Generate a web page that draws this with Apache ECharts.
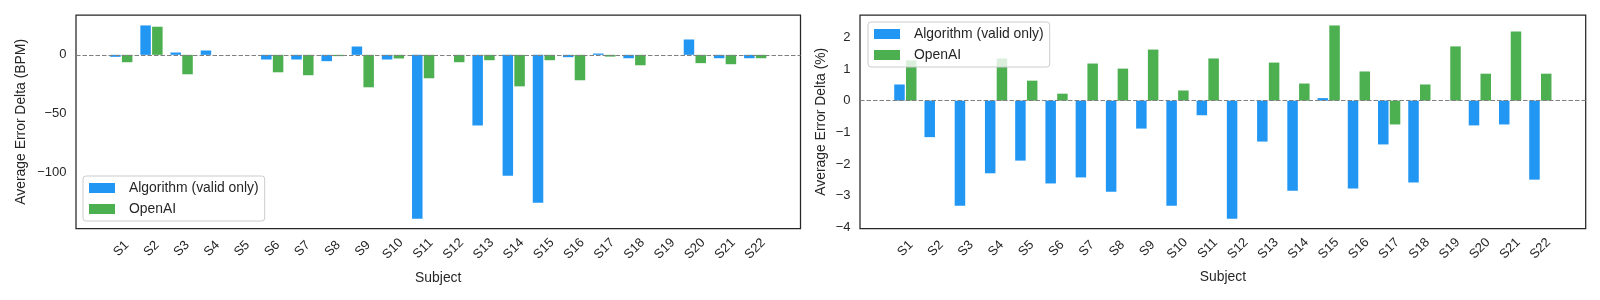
<!DOCTYPE html>
<html>
<head>
<meta charset="utf-8">
<script src="https://cdn.jsdelivr.net/npm/echarts@6/dist/echarts.min.js"></script>
<style>
html,body{margin:0;padding:0;background:#fff;}
#chart{width:1600px;height:300px;}
</style>
</head>
<body>
<div id="chart"></div>
<script>
const subjects = ['S1','S2','S3','S4','S5','S6','S7','S8','S9','S10','S11','S12','S13','S14','S15','S16','S17','S18','S19','S20','S21','S22'];

// Left panel: Average Error Delta (BPM)
const bpmAlgorithm = [-1.7, 25.1, 2.0, 3.7, 0, -4.0, -4.0, -5.4, 7.1, -4.0, -140.0, 0, -60.3, -103.1, -126.3, -2.0, 1.1, -2.9, 0, 13.1, -2.9, -2.9];
const bpmOpenAI    = [-6.3, 24.0, -16.6, 0, 0, -14.9, -17.4, -1.1, -27.7, -3.1, -20.0, -6.3, -4.6, -26.9, -4.6, -21.7, -1.5, -8.9, 0, -7.1, -8.0, -2.9];

// Right panel: Average Error Delta (%)
const pctAlgorithm = [0.51, -1.15, -3.31, -2.29, -1.89, -2.61, -2.42, -2.87, -0.88, -3.31, -0.46, -3.72, -1.29, -2.84, 0.08, -2.77, -1.38, -2.58, 0, -0.78, -0.75, -2.49];
const pctOpenAI    = [1.27, 0, 0, 1.33, 0.63, 0.22, 1.17, 1.01, 1.61, 0.32, 1.33, 0, 1.20, 0.54, 2.37, 0.92, -0.75, 0.51, 1.71, 0.85, 2.18, 0.85];

const bpmTicks = [-100, -50, 0];
const pctTicks = [-4, -3, -2, -1, 0, 1, 2];

const seriesNames = ['Algorithm (valid only)', 'OpenAI'];
const colors = ['#2196F3', '#4CAF50'];

const FONT = "'Liberation Sans', Arial, sans-serif";
const TXT = '#262626';
const idx = subjects.map((_, i) => i);
const pairs = arr => arr.map((v, i) => [i, v]);
const minusFmt = v => String(v).replace('-', '\u2212');

const grids = [
  {left: 76, top: 15, width: 724.5, height: 213.7},
  {left: 860, top: 15, width: 725.7, height: 213.5}
];

function xAxis(gi) {
  return {
    type: 'value', gridIndex: gi, min: -1.5, max: 22.5,
    axisLine: {show: false}, axisTick: {show: false}, splitLine: {show: false},
    name: 'Subject', nameLocation: 'middle', nameGap: 42,
    nameTextStyle: {fontFamily: FONT, fontSize: 13.9, color: TXT},
    axisLabel: {
      customValues: idx, rotate: 45, align: 'center', verticalAlign: 'middle', margin: 20,
      fontFamily: FONT, fontSize: 13, color: TXT,
      formatter: v => subjects[v] || ''
    }
  };
}
function yAxis(gi, min, max, ticks, name, gap) {
  return {
    type: 'value', gridIndex: gi, min: min, max: max,
    axisLine: {show: false}, axisTick: {show: false}, splitLine: {show: false},
    name: name, nameLocation: 'middle', nameGap: gap, nameRotate: 90,
    nameTextStyle: {fontFamily: FONT, fontSize: 13.9, color: TXT},
    axisLabel: {customValues: ticks, margin: 9.5, fontFamily: FONT, fontSize: 13, color: TXT, formatter: minusFmt}
  };
}
function legend(left, top) {
  return {
    show: true, left: left, top: top, orient: 'vertical', selectedMode: false,
    data: seriesNames, icon: 'rect', itemWidth: 26, itemHeight: 10, itemGap: 7,
    padding: [5, 6, 5, 6], backgroundColor: 'rgba(255,255,255,0.8)',
    borderColor: '#cccccc', borderWidth: 1, borderRadius: 3,
    textStyle: {fontFamily: FONT, fontSize: 13.9, color: TXT, lineHeight: 14, padding: [0, 0, 0, 9]}
  };
}
const zeroLine = {
  silent: true, symbol: 'none', animation: false,
  label: {show: false},
  lineStyle: {color: '#808080', type: [4.5, 2], width: 1.2},
  data: [{yAxis: 0}]
};
function bars(gi, a, b) {
  return [
    {name: seriesNames[0], type: 'bar', xAxisIndex: gi, yAxisIndex: gi, data: pairs(a),
     barWidth: 10.5, barGap: '12%', itemStyle: {color: colors[0]}},
    {name: seriesNames[1], type: 'bar', xAxisIndex: gi, yAxisIndex: gi, data: pairs(b),
     barWidth: 10.5, barGap: '12%', itemStyle: {color: colors[1]}, markLine: zeroLine}
  ];
}

const chart = echarts.init(document.getElementById('chart'), null, {renderer: 'canvas'});
chart.setOption({
  animation: false,
  backgroundColor: '#ffffff',
  grid: grids.map(g => Object.assign({show: true, borderColor: '#262626', borderWidth: 1.25, backgroundColor: 'transparent'}, g)),
  xAxis: [xAxis(0), xAxis(1)],
  yAxis: [
    yAxis(0, -148.4, 34, bpmTicks, 'Average Error Delta (BPM)', 48),
    yAxis(1, -4.03, 2.7, pctTicks, 'Average Error Delta (%)', 32)
  ],
  legend: [legend(83, 176), legend(868, 22)],
  series: bars(0, bpmAlgorithm, bpmOpenAI).concat(bars(1, pctAlgorithm, pctOpenAI))
});
</script>
</body>
</html>
